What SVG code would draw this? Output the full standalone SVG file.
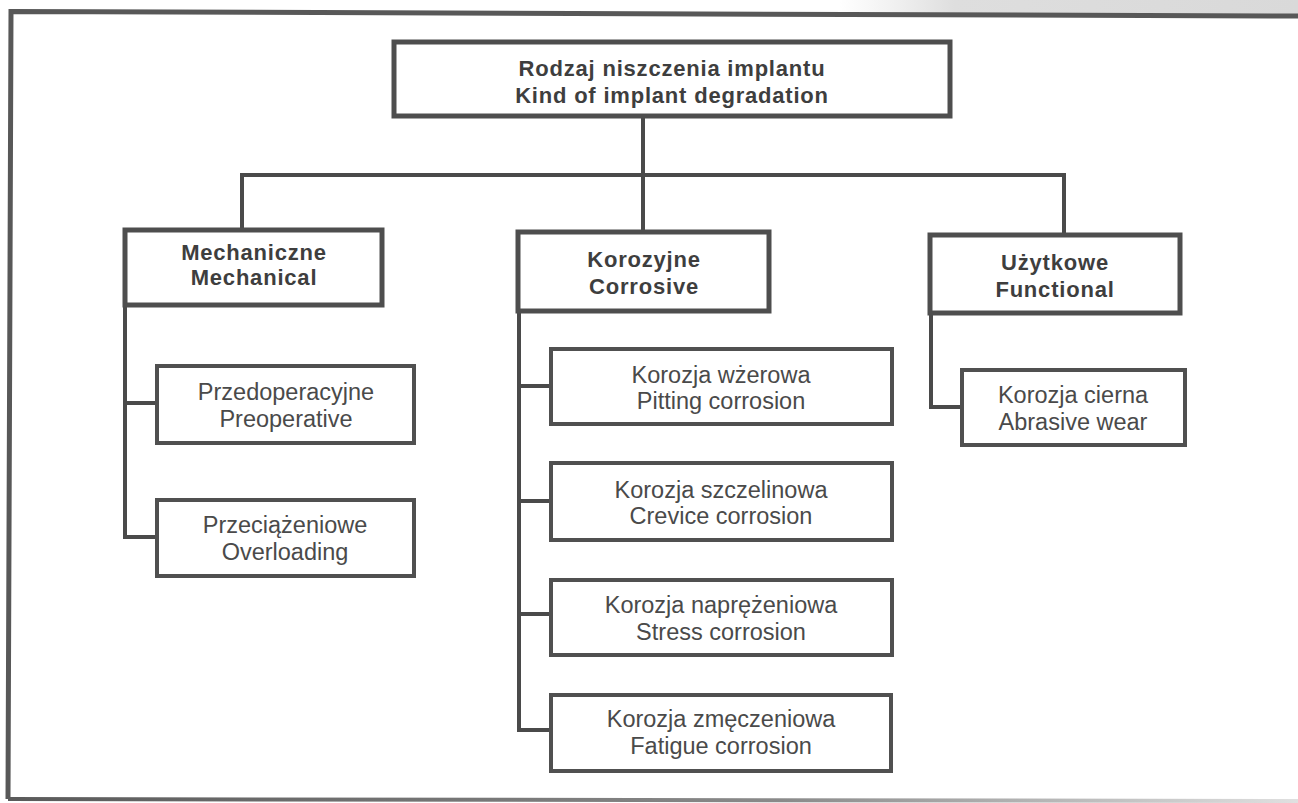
<svg xmlns="http://www.w3.org/2000/svg" width="1298" height="803" viewBox="0 0 1298 803">
  <defs>
    <linearGradient id="topgray" x1="0" y1="0" x2="1" y2="0">
      <stop offset="0" stop-color="#e2e2e2" stop-opacity="0"/>
      <stop offset="0.25" stop-color="#dedede" stop-opacity="1"/>
      <stop offset="1" stop-color="#d9d9d9" stop-opacity="1"/>
    </linearGradient>
    <linearGradient id="bottomfade" x1="0" y1="0" x2="1" y2="0">
      <stop offset="0" stop-color="#5a5a5a"/>
      <stop offset="0.6" stop-color="#8a8a8a"/>
      <stop offset="1" stop-color="#e0e0e0"/>
    </linearGradient>
  </defs>
  <style>
    .main { fill: #ffffff; stroke: #4e4e4e; stroke-width: 5; }
    .leaf { fill: #ffffff; stroke: #505050; stroke-width: 4; }
    .conn { fill: none; stroke: #4a4a4a; stroke-width: 4; stroke-linecap: square; }
    .bt { font-family: "Liberation Sans", Arial, sans-serif; font-weight: bold; font-size: 22px; letter-spacing: 0.8px; fill: #3e3e3e; text-anchor: middle; }
    .rt { font-family: "Liberation Sans", Arial, sans-serif; font-size: 23.5px; fill: #4a4a4a; text-anchor: middle; }
  </style>
  <rect x="0" y="0" width="1298" height="803" fill="#ffffff"/>
  <polygon points="840,0 1298,0 1298,15 840,13" fill="url(#topgray)"/>
  <g id="frame">
    <path d="M1298 16 L11 11.5 L8 799" fill="none" stroke="#585858" stroke-width="5"/>
    <path d="M8 799 L1298 801" fill="none" stroke="url(#bottomfade)" stroke-width="4"/>
  </g>
  <g id="connectors">
    <path class="conn" d="M643 118 V232"/>
    <path class="conn" d="M242 175 H1064"/>
    <path class="conn" d="M242 175 V230"/>
    <path class="conn" d="M1064 175 V235"/>
    <path class="conn" d="M125 305 V537 H157"/>
    <path class="conn" d="M125 403 H157"/>
    <path class="conn" d="M519 311 V730 H551"/>
    <path class="conn" d="M519 386 H551"/>
    <path class="conn" d="M519 501 H551"/>
    <path class="conn" d="M519 614 H551"/>
    <path class="conn" d="M931 313 V407 H962"/>
  </g>
  <g id="root">
    <rect class="main" x="394" y="42" width="556" height="74"/>
    <text class="bt" x="672" y="76">Rodzaj niszczenia implantu</text>
    <text class="bt" x="672" y="103">Kind of implant degradation</text>
  </g>
  <g id="mechanical">
    <rect class="main" x="125" y="230" width="257" height="75"/>
    <text class="bt" x="254" y="260">Mechaniczne</text>
    <text class="bt" x="254" y="285">Mechanical</text>
  </g>
  <g id="corrosive">
    <rect class="main" x="518" y="232" width="251" height="79"/>
    <text class="bt" x="644" y="267">Korozyjne</text>
    <text class="bt" x="644" y="294">Corrosive</text>
  </g>
  <g id="functional">
    <rect class="main" x="930" y="235" width="250" height="78"/>
    <text class="bt" x="1055" y="270">Użytkowe</text>
    <text class="bt" x="1055" y="297">Functional</text>
  </g>
  <g id="preoperative">
    <rect class="leaf" x="157" y="366" width="257" height="77"/>
    <text class="rt" x="286" y="400">Przedoperacyjne</text>
    <text class="rt" x="286" y="427">Preoperative</text>
  </g>
  <g id="overloading">
    <rect class="leaf" x="157" y="500" width="257" height="76"/>
    <text class="rt" x="285" y="533">Przeciążeniowe</text>
    <text class="rt" x="285" y="560">Overloading</text>
  </g>
  <g id="pitting">
    <rect class="leaf" x="551" y="349" width="341" height="75"/>
    <text class="rt" x="721" y="383">Korozja wżerowa</text>
    <text class="rt" x="721" y="409">Pitting corrosion</text>
  </g>
  <g id="crevice">
    <rect class="leaf" x="551" y="463" width="341" height="77"/>
    <text class="rt" x="721" y="498">Korozja szczelinowa</text>
    <text class="rt" x="721" y="524">Crevice corrosion</text>
  </g>
  <g id="stress">
    <rect class="leaf" x="551" y="580" width="341" height="75"/>
    <text class="rt" x="721" y="613">Korozja naprężeniowa</text>
    <text class="rt" x="721" y="640">Stress corrosion</text>
  </g>
  <g id="fatigue">
    <rect class="leaf" x="551" y="695" width="340" height="76"/>
    <text class="rt" x="721" y="727">Korozja zmęczeniowa</text>
    <text class="rt" x="721" y="754">Fatigue corrosion</text>
  </g>
  <g id="abrasive">
    <rect class="leaf" x="962" y="370" width="223" height="75"/>
    <text class="rt" x="1073" y="403">Korozja cierna</text>
    <text class="rt" x="1073" y="430">Abrasive wear</text>
  </g>
</svg>
